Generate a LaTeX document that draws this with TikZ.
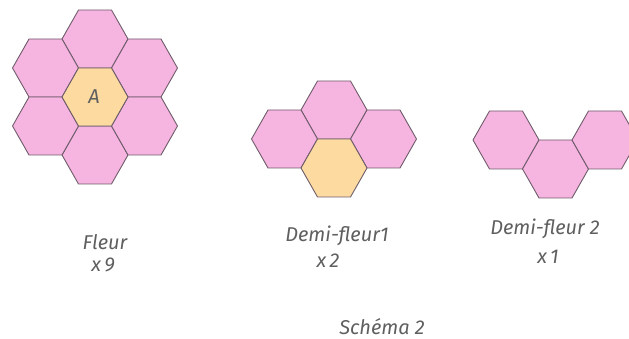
\documentclass[tikz,border=0pt]{standalone}
\usepackage{fontspec}
\setmainfont{Fira Sans}
\definecolor{rose}{RGB}{246,180,224}
\definecolor{miel}{RGB}{253,218,160}
\definecolor{bord}{RGB}{110,92,106}
\definecolor{texte}{RGB}{95,95,95}
\begin{document}
\begin{tikzpicture}[x=1pt, y=-1pt, line join=round, line cap=round,
	hexa/.style={draw=bord, line width=.9pt},
	lbl/.style={text=texte, font=\fontsize{20}{23}\selectfont\itshape, inner sep=0pt}]
		\clip (0,0) rectangle (629,339);
		\def\r{33} \def\s{16.5} \def\h{29}
		% fleur, demi-fleur 1, demi-fleur 2
		\foreach \x/\y/\c in {95/39/rose,95/155/rose,45.5/68/rose,45.5/126/rose,144.5/68/rose,144.5/126/rose,95/97/miel,
			334/110/rose,284.5/139/rose,383.5/139/rose,334/168/miel,
			506/140/rose,555.5/169/rose,605/140/rose}
		\draw[hexa, fill=\c] (\x,\y) +(-\r,0) -- +(-\s,-\h) -- +(\s,-\h) -- +(\r,0) -- +(\s,\h) -- +(-\s,\h) -- cycle;
		\node[lbl] (centre) at (94,97) {A};
		\node[lbl] (fleur) at (105,242) {Fleur};
		\node[lbl] (nfleur) at (103,265) {x\,9};
		\node[lbl] (demi1) at (337,236) {Demi-fleur1};
		\node[lbl] (ndemi1) at (328,261) {x\,2};
		\node[lbl] (demi2) at (545,229) {Demi-fleur 2};
		\node[lbl] (ndemi2) at (548,257) {x\,1};
		\node[lbl] (schema) at (382,327) {Schéma 2};
\end{tikzpicture}
\end{document}
